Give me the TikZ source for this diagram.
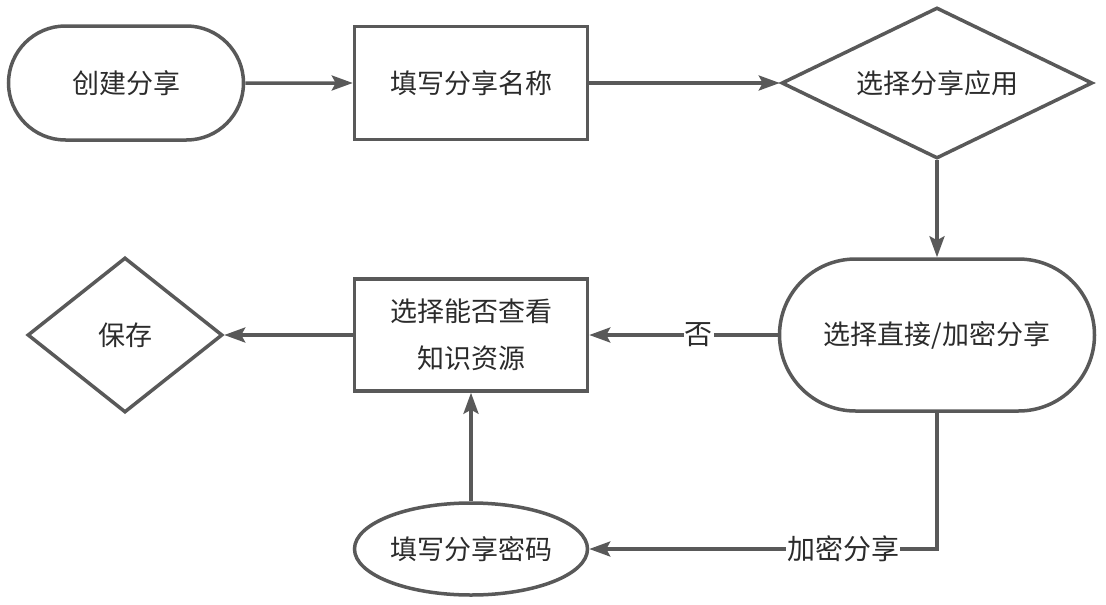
\documentclass[tikz,border=0pt]{standalone}
\usepackage{fontspec}
\setmainfont{Noto Sans CJK SC}
\usepackage{tikz}
\usetikzlibrary{shapes.geometric,shapes.misc,arrows.meta}

\definecolor{linegray}{HTML}{595959}
\definecolor{textgray}{HTML}{2B2B2B}

\tikzset{
  base/.style={draw=linegray,line width=3.5pt,text=textgray,font=\fontsize{27}{47}\selectfont,inner sep=0pt,align=center},
  term/.style={base,rounded rectangle},
  proc/.style={base,rectangle},
  decide/.style={base,diamond},
  oval/.style={base,ellipse},
  flow/.style={draw=linegray,line width=3.5pt,-{Stealth[length=21pt,width=15pt,inset=4pt]}},
  lbl/.style={fill=white,text=textgray,font=\fontsize{28}{30}\selectfont,inner sep=1pt}
}

\begin{document}
\begin{tikzpicture}[x=1pt,y=-1pt]
\useasboundingbox (0,0) rectangle (1106,605);
\node[term,minimum width=235pt,minimum height=114pt] (start) at (126,83) {创建分享};
\node[proc,minimum width=233pt,minimum height=113pt] (name) at (471,83) {填写分享名称};
\node[decide,minimum width=311pt,minimum height=151pt,shape aspect=2.06] (app) at (937,83) {选择分享应用};
\node[term,minimum width=315pt,minimum height=152pt] (mode) at (937,335) {选择直接/加密分享};
\node[proc,minimum width=233pt,minimum height=112pt] (view) at (471,335) {选择能否查看\\知识资源};
\node[decide,minimum width=195pt,minimum height=155pt,shape aspect=1.26] (save) at (125,335) {保存};
\node[oval,minimum width=233pt,minimum height=92pt] (pwd) at (471,549) {填写分享密码};

\draw[flow] (start) -- (name);
\draw[flow] (name) -- (app);
\draw[flow] (app) -- (mode);
\draw[flow] (mode) -- node[lbl,pos=0.42] {否} (view);
\draw[flow] (view) -- (save);
\draw[flow] (mode.south) |- node[lbl,pos=0.635] {加密分享} (pwd.east);
\draw[flow] (pwd) -- (view);
\end{tikzpicture}
\end{document}
